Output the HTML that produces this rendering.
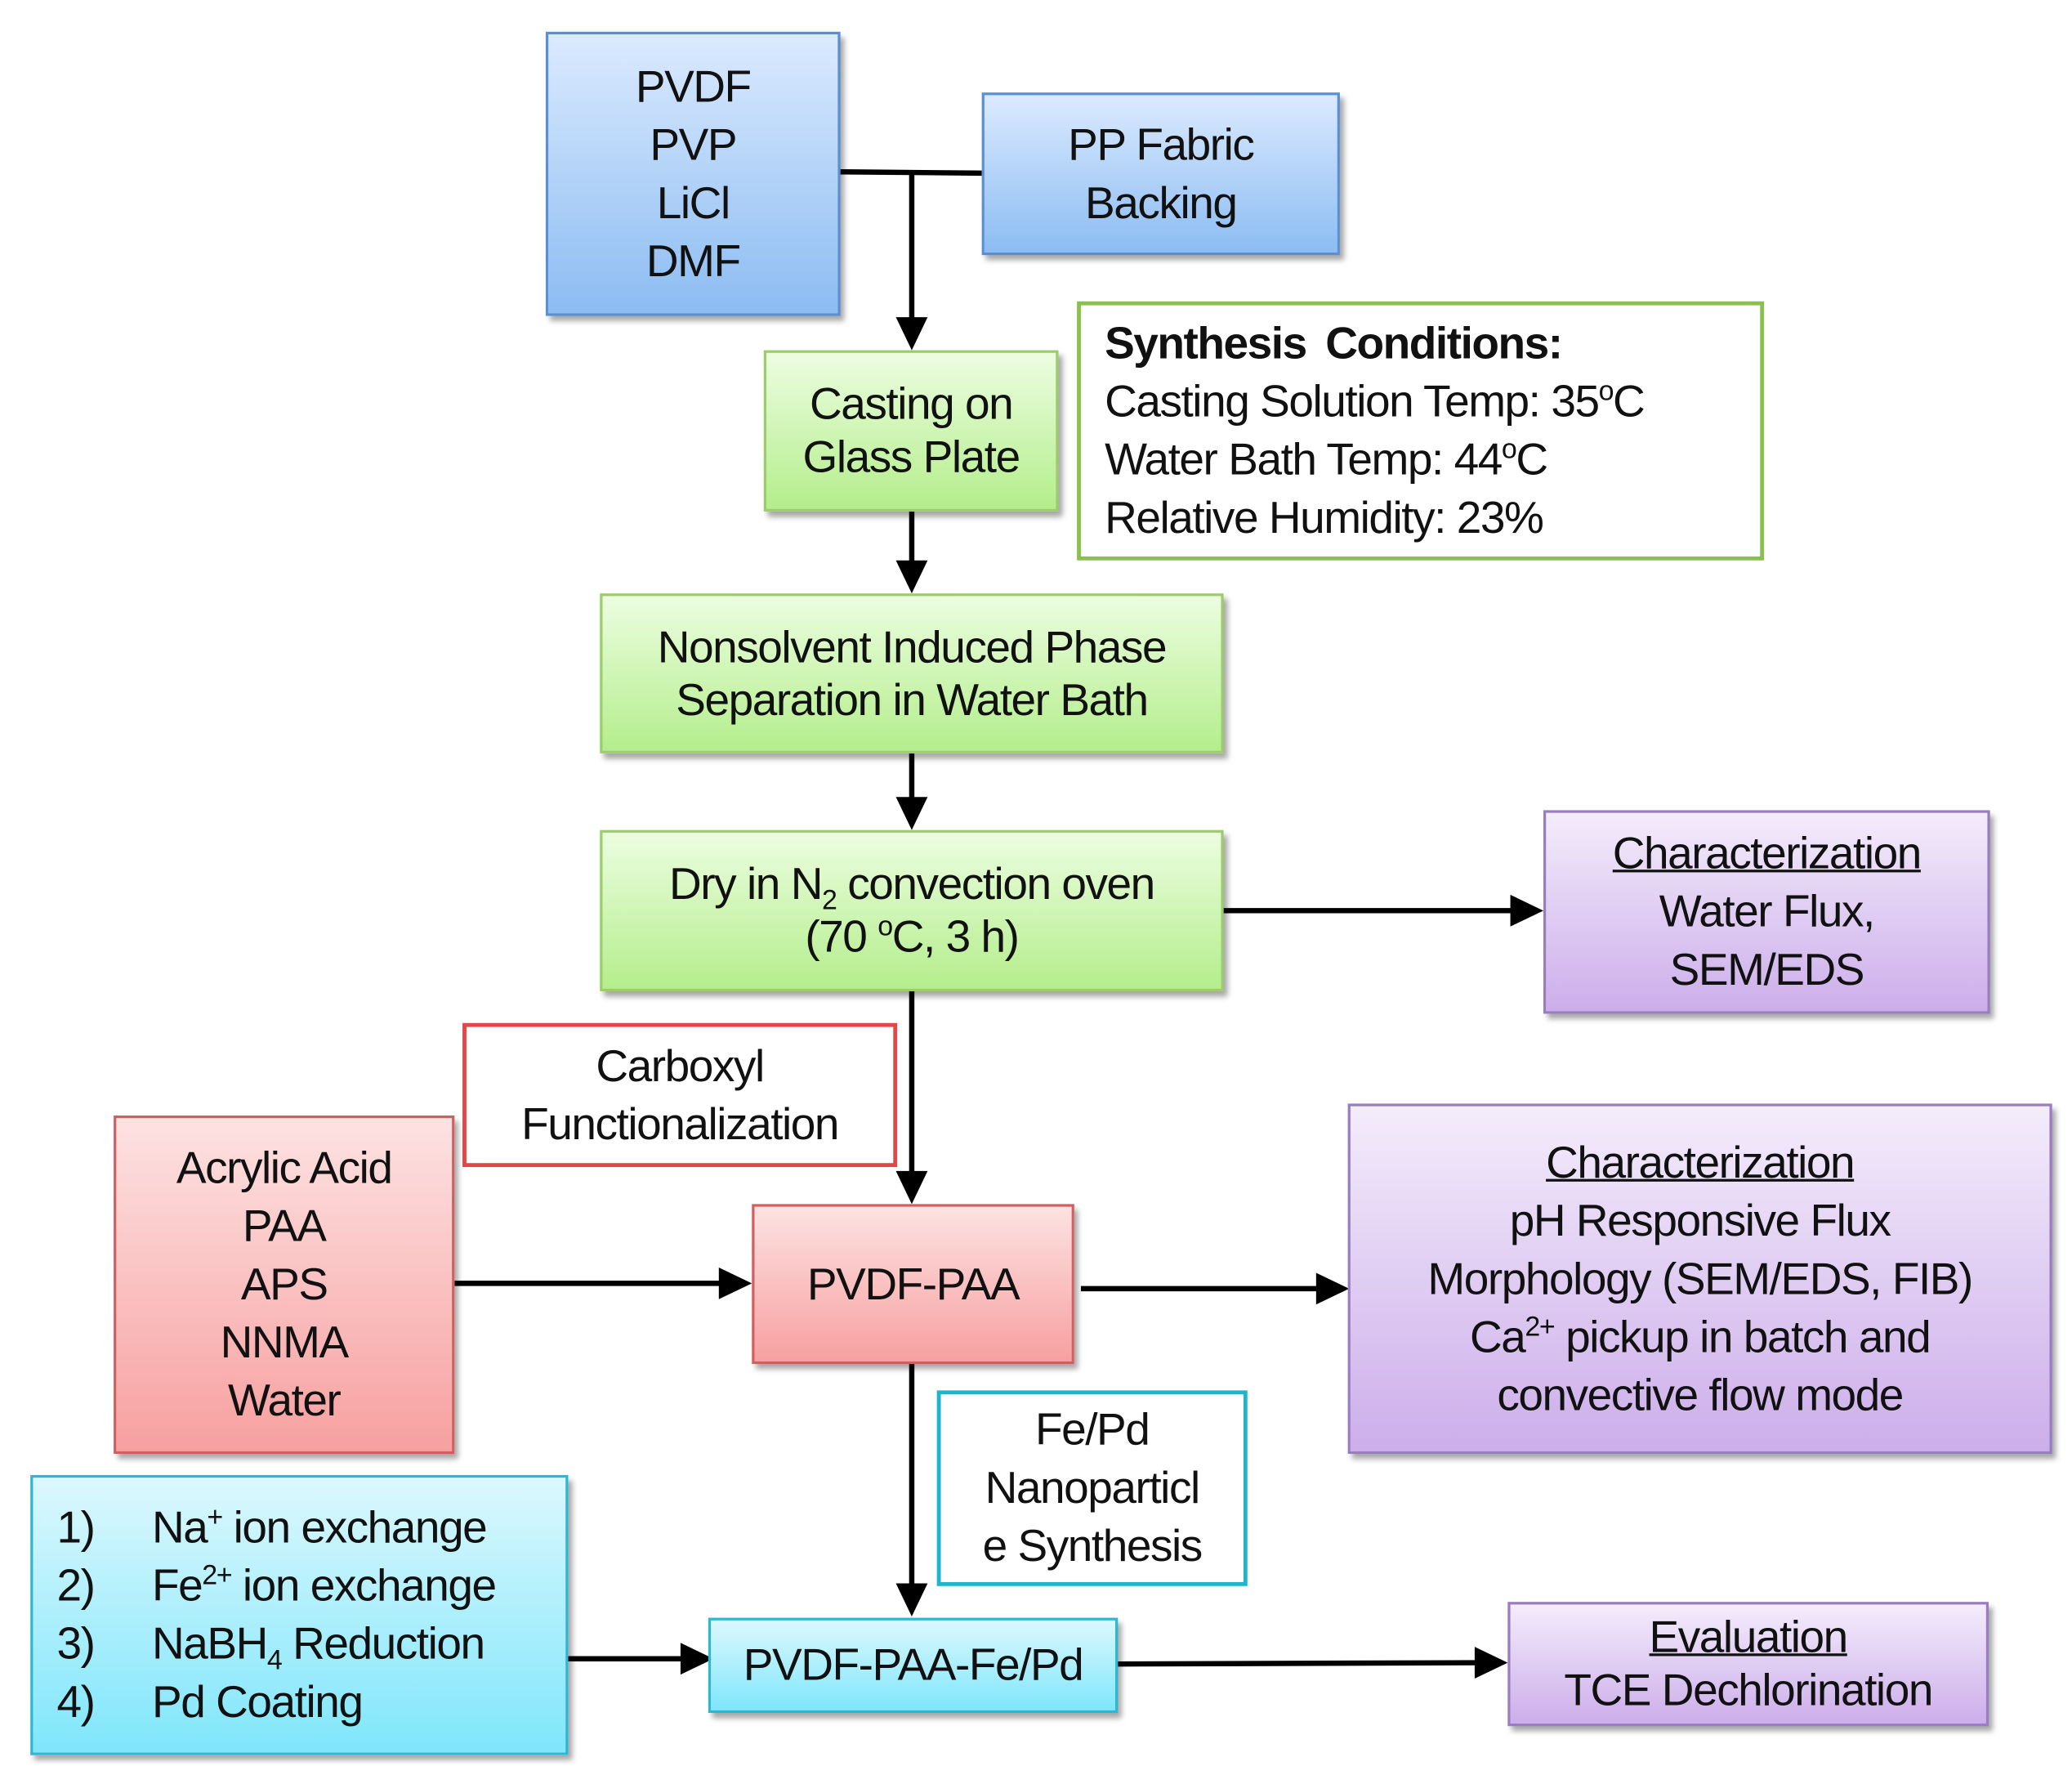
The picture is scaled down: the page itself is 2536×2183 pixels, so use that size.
<!DOCTYPE html>
<html><head><meta charset="utf-8"><style>
html,body{margin:0;padding:0;background:#fff;}
body{width:2536px;height:2182px;overflow:hidden;position:relative;}
#s{position:absolute;left:0;top:0;width:1568px;height:1350px;transform:scale(1.6173);transform-origin:0 0;font-family:"Liberation Sans",Arial,sans-serif;color:#111;}
.b{position:absolute;box-sizing:border-box;display:flex;justify-content:center;align-items:center;text-align:center;font-size:34px;line-height:44px;box-shadow:3px 4px 4px rgba(0,0,0,0.35);letter-spacing:-0.9px;}
.blue{background:linear-gradient(#dbeafe,#8cbcf2);border:2px solid #5b8fd4;}
.green{background:linear-gradient(#ecfde0,#b4ee8c);border:2px solid #9ccc6c;line-height:40px;}
.red{background:linear-gradient(#fde2e2,#f7a0a0);border:2px solid #d06060;}
.pur{background:linear-gradient(#f4ecfb,#ccaeea);border:2px solid #9a7cc0;}
.cyan{background:linear-gradient(#dcf8fd,#7fe6fb);border:2px solid #2cb8d4;}
.w{background:#fff;box-shadow:none;}
u{text-decoration:underline;text-decoration-thickness:2px;}
sup,sub{font-size:21px;line-height:0;}
svg{position:absolute;left:0;top:0;}
</style></head><body><div id="s">
<svg width="1568" height="1350">
<g stroke="#000" stroke-width="4" fill="none">
<path d="M636,130 L743,131"/>
<path d="M690,130 L690,244"/>
<path d="M690,387 L690,428"/>
<path d="M690,570 L690,608"/>
<path d="M926,689 L1146,689"/>
<path d="M690,750 L690,890"/>
<path d="M344,971 L548,971"/>
<path d="M818,975 L1000,975"/>
<path d="M690,1032 L690,1202"/>
<path d="M430,1255 L519,1255"/>
<path d="M846,1259 L1120,1258"/>
</g>
<g fill="#000">
<path d="M678,240 L702,240 L690,265 z"/>
<path d="M678,424 L702,424 L690,449 z"/>
<path d="M678,603 L702,603 L690,628 z"/>
<path d="M1143,677 L1143,701 L1168,689 z"/>
<path d="M678,886 L702,886 L690,911 z"/>
<path d="M544,959 L544,983 L569,971 z"/>
<path d="M996,963 L996,987 L1021,975 z"/>
<path d="M678,1198 L702,1198 L690,1223 z"/>
<path d="M515,1243 L515,1267 L540,1255 z"/>
<path d="M1116,1246 L1116,1270 L1141,1258 z"/>
</g>
</svg>
<div class="b blue" style="left:413px;top:24px;width:223px;height:215px;"><div>PVDF<br>PVP<br>LiCl<br>DMF</div></div>
<div class="b blue" style="left:743px;top:70px;width:271px;height:123px;"><div>PP Fabric<br>Backing</div></div>
<div class="b green" style="left:578px;top:265px;width:223px;height:122px;"><div>Casting on<br>Glass Plate</div></div>
<div class="b w" style="left:815px;top:228px;width:520px;height:196px;border:3px solid #8cc04c;justify-content:flex-start;padding-left:18px;text-align:left;">
<div><b style="word-spacing:6px">Synthesis Conditions:</b><br>Casting Solution Temp: 35<sup>o</sup>C<br>Water Bath Temp: 44<sup>o</sup>C<br>Relative Humidity: 23%</div></div>
<div class="b green" style="left:454px;top:449px;width:472px;height:121px;"><div>Nonsolvent Induced Phase<br>Separation in Water Bath</div></div>
<div class="b green" style="left:454px;top:628px;width:472px;height:122px;"><div>Dry in N<sub>2</sub> convection oven<br>(70 <sup>o</sup>C, 3 h)</div></div>
<div class="b pur" style="left:1168px;top:613px;width:338px;height:154px;"><div><u>Characterization</u><br>Water Flux,<br>SEM/EDS</div></div>
<div class="b w" style="left:350px;top:774px;width:329px;height:109px;border:3px solid #e04848;"><div>Carboxyl<br>Functionalization</div></div>
<div class="b red" style="left:86px;top:844px;width:258px;height:256px;"><div>Acrylic Acid<br>PAA<br>APS<br>NNMA<br>Water</div></div>
<div class="b red" style="left:569px;top:911px;width:244px;height:121px;"><div>PVDF-PAA</div></div>
<div class="b pur" style="left:1020px;top:835px;width:533px;height:265px;"><div><u>Characterization</u><br>pH Responsive Flux<br>Morphology (SEM/EDS, FIB)<br>Ca<sup>2+</sup> pickup in batch and<br>convective flow mode</div></div>
<div class="b w" style="left:709px;top:1052px;width:235px;height:148px;border:3px solid #20b4cc;"><div>Fe/Pd<br>Nanoparticl<br>e Synthesis</div></div>
<div class="b cyan" style="left:23px;top:1116px;width:407px;height:212px;justify-content:flex-start;text-align:left;padding-left:18px;">
<div><span style="display:inline-block;width:72px">1)</span>Na<sup>+</sup> ion exchange<br><span style="display:inline-block;width:72px">2)</span>Fe<sup>2+</sup> ion exchange<br><span style="display:inline-block;width:72px">3)</span>NaBH<sub>4</sub> Reduction<br><span style="display:inline-block;width:72px">4)</span>Pd Coating</div></div>
<div class="b cyan" style="left:536px;top:1224px;width:310px;height:72px;"><div>PVDF-PAA-Fe/Pd</div></div>
<div class="b pur" style="left:1141px;top:1212px;width:364px;height:94px;line-height:40px;"><div><u>Evaluation</u><br>TCE Dechlorination</div></div>
</div></body></html>
